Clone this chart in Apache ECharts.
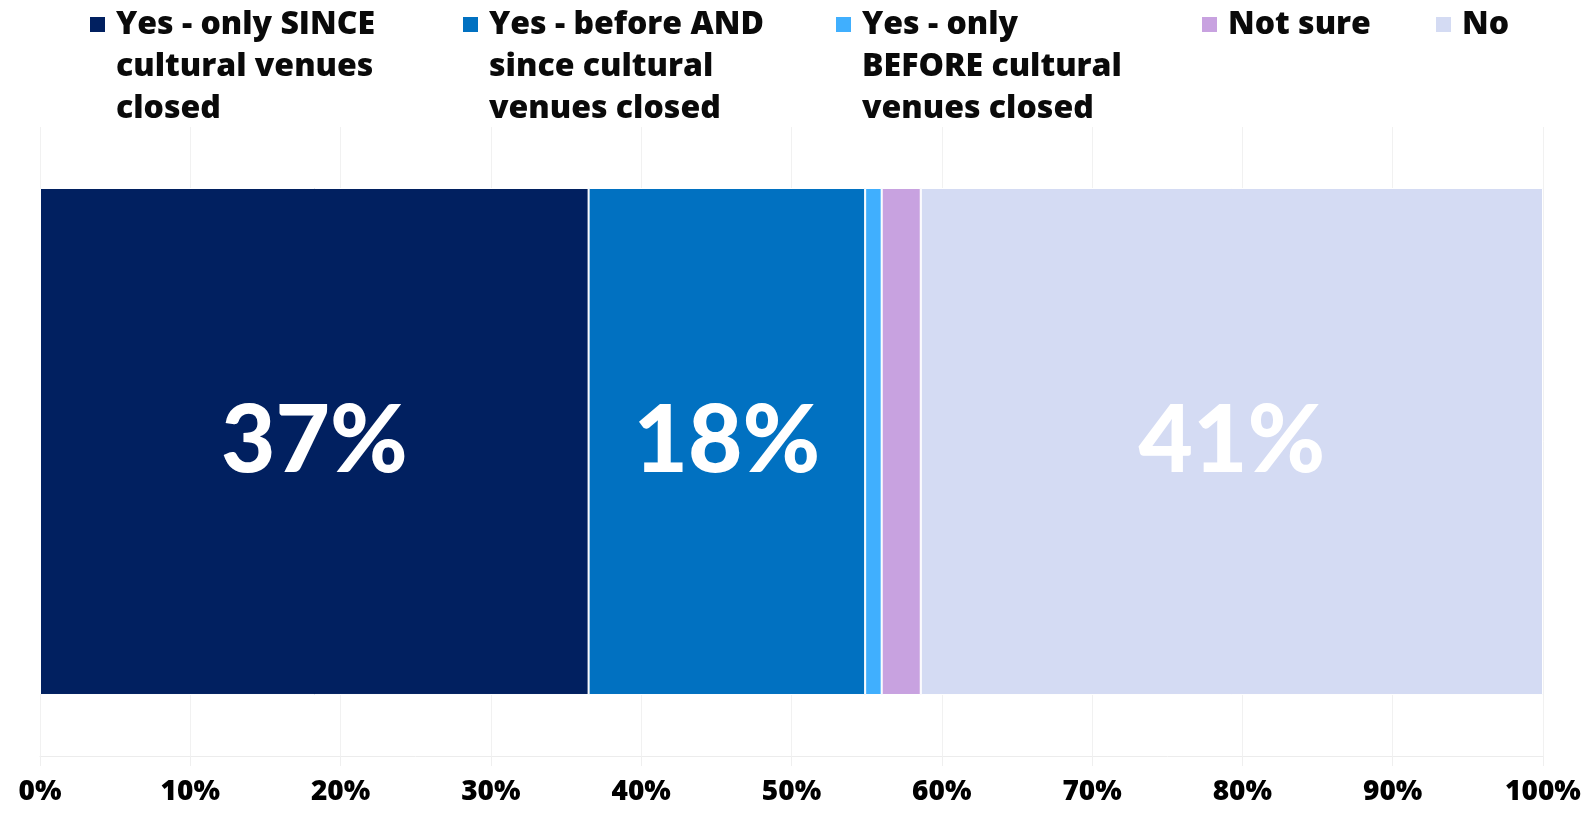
<!DOCTYPE html>
<html>
<head>
<meta charset="utf-8">
<title>Cultural venues</title>
<script src="https://cdn.jsdelivr.net/npm/echarts@6/dist/echarts.min.js"></script>
<style>
  html, body { margin: 0; padding: 0; background: #fff; }
  #chart { width: 1592px; height: 816px; }
</style>
</head>
<body>
<div id="chart"></div>
<script>
// Survey answers, in stacking order
const answers = [
  'Yes - only SINCE cultural venues closed',
  'Yes - before AND since cultural venues closed',
  'Yes - only BEFORE cultural venues closed',
  'Not sure',
  'No'
];
// Wrapped legend text for each answer
const legendLines = [
  ['Yes - only SINCE', 'cultural venues', 'closed'],
  ['Yes - before AND', 'since cultural', 'venues closed'],
  ['Yes - only', 'BEFORE cultural', 'venues closed'],
  ['Not sure'],
  ['No']
];
// Share of respondents (%)
const shares = [36.5, 18.4, 1.1, 2.6, 41.4];
// Segments whose value is printed inside the bar
const labelled = [true, true, false, false, true];
const colors = ['#012060', '#0171C1', '#40AFFE', '#C8A2E0', '#D4DBF3'];
const categories = [''];
const xTicks = { min: 0, max: 100, interval: 10 };

const FONT = 'Lato, "Open Sans", sans-serif';
const TEXT_FONT = '"Open Sans", Lato, sans-serif';
const LINE_H = 42;
const ICON = 17;
const legendLeft = [88, 461, 834, 1200, 1434];
const iconTop = 16;

// Legend text is centred on the icon, so empty lines are put in front of
// multi-line names to keep their first line level with the icon.
const legends = answers.map((name, i) => {
  const n = legendLines[i].length;
  const text = '\n'.repeat(n - 1) + legendLines[i].join('\n');
  return {
    data: [name],
    left: legendLeft[i],
    top: iconTop - ((2 * n - 1) * LINE_H / 2 - ICON / 2),
    padding: 0,
    itemWidth: ICON,
    itemHeight: ICON,
    icon: 'rect',
    selectedMode: false,
    formatter: () => text,
    textStyle: {
      fontFamily: TEXT_FONT,
      fontWeight: 800,
      fontSize: 32,
      color: '#0a0a0a',
      lineHeight: LINE_H,
      padding: [0, 0, 0, 5]
    }
  };
});

const series = answers.map((name, i) => ({
  name: name,
  type: 'bar',
  stack: 'total',
  barWidth: '80.6%',
  data: [shares[i]],
  itemStyle: { color: colors[i], borderColor: '#ffffff', borderWidth: 1 },
  label: {
    show: labelled[i],
    position: 'inside',
    formatter: p => Math.round(p.value) + '%',
    color: '#ffffff',
    fontFamily: FONT,
    fontWeight: 900,
    fontSize: 94
  },
  emphasis: { disabled: true }
}));

const chart = echarts.init(document.getElementById('chart'));
chart.setOption({
  animation: false,
  backgroundColor: '#ffffff',
  legend: legends,
  grid: { left: 40, right: 49, top: 127, bottom: 60, containLabel: false },
  xAxis: {
    type: 'value',
    min: xTicks.min,
    max: xTicks.max,
    interval: xTicks.interval,
    axisLine: { show: true, lineStyle: { color: '#ececec', width: 1 } },
    axisTick: { show: true, length: 10, lineStyle: { color: '#efefef' } },
    splitLine: { show: true, lineStyle: { color: '#f1f1f1', width: 1 } },
    axisLabel: {
      formatter: '{value}%',
      margin: 22,
      fontFamily: TEXT_FONT,
      fontWeight: 800,
      fontSize: 28,
      color: '#000000'
    }
  },
  yAxis: {
    type: 'category',
    data: categories,
    axisLine: { show: false },
    axisTick: { show: false },
    axisLabel: { show: false },
    splitLine: { show: false }
  },
  series: series
});
</script>
</body>
</html>
